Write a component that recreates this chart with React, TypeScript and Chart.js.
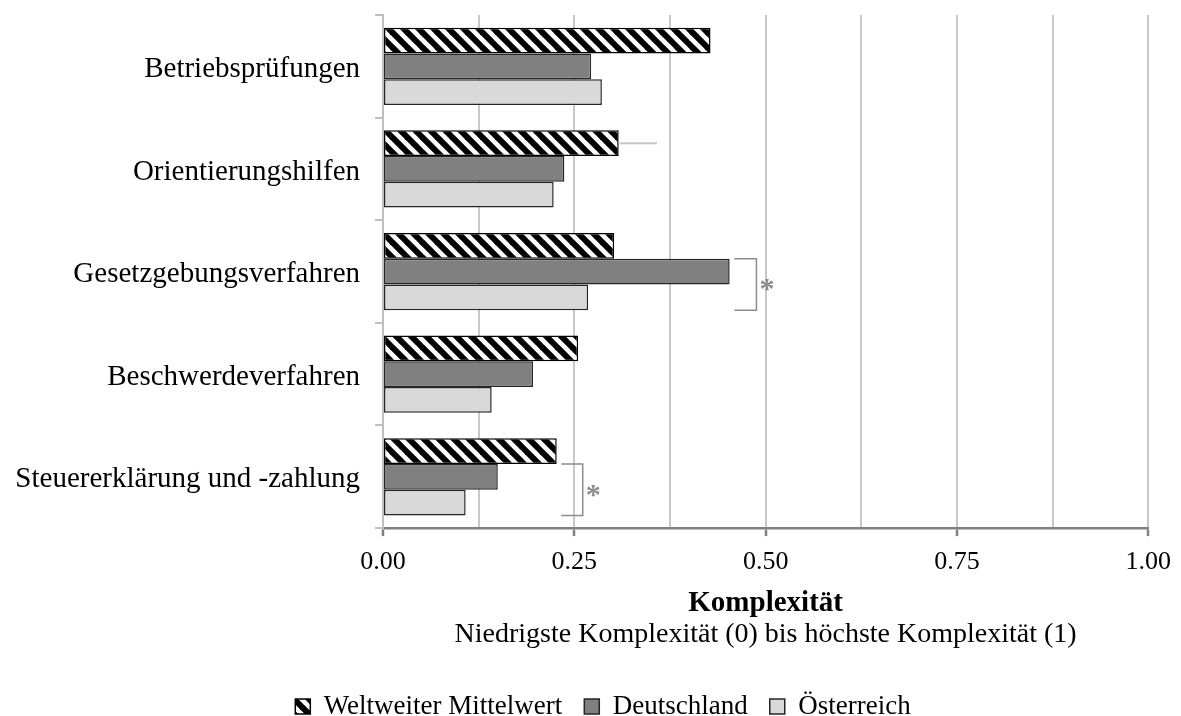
import React, { useEffect, useRef } from 'react';
import { Chart, registerables } from 'chart.js';

Chart.register(...registerables);

const categories = [
  'Betriebsprüfungen',
  'Orientierungshilfen',
  'Gesetzgebungsverfahren',
  'Beschwerdeverfahren',
  'Steuererklärung und -zahlung',
];
const seriesNames = ['Weltweiter Mittelwert', 'Deutschland', 'Österreich'];
const weltweit = [0.428, 0.308, 0.302, 0.255, 0.227];
const deutschland = [0.272, 0.237, 0.453, 0.196, 0.15];
const oesterreich = [0.286, 0.223, 0.268, 0.142, 0.108];
const xLabelTicks = [0, 0.25, 0.5, 0.75, 1];
const axisTitle = 'Komplexität';
const axisSubtitle = 'Niedrigste Komplexität (0) bis höchste Komplexität (1)';
const significance = [
  { category: 'Gesetzgebungsverfahren', from: 0.459, to: 0.488, label: '*' },
  { category: 'Steuererklärung und -zahlung', from: 0.233, to: 0.261, label: '*' },
];
const whiskers = [{ category: 'Orientierungshilfen', series: 0, to: 0.358 }];

const FONT = '"Liberation Serif", "Times New Roman", serif';

function makeHatch(): CanvasPattern | string {
  const size = 15;
  const c = document.createElement('canvas');
  c.width = size;
  c.height = size;
  const g = c.getContext('2d');
  if (!g) return '#888';
  g.fillStyle = '#ffffff';
  g.fillRect(0, 0, size, size);
  g.strokeStyle = '#000000';
  g.lineWidth = 6;
  for (const off of [-size, 0, size]) {
    g.beginPath();
    g.moveTo(off - 2, -2);
    g.lineTo(off + size + 2, size + 2);
    g.stroke();
  }
  const p = g.createPattern(c, 'repeat');
  return p || '#888';
}

const legendShiftPlugin = {
  id: 'legendShift',
  afterLayout(chart: any) {
    const lg = chart.legend;
    if (!lg) return;
    lg.left += 27;
    lg.right += 27;
    if (lg.legendHitBoxes) lg.legendHitBoxes.forEach((h: any) => (h.left += 27));
  },
};

const annotPlugin = {
  id: 'annot',
  afterDatasetsDraw(chart: any) {
    const { ctx } = chart;
    const x = chart.scales.x;
    ctx.save();
    whiskers.forEach((w) => {
      const i = categories.indexOf(w.category);
      const el = chart.getDatasetMeta(w.series).data[i];
      if (!el) return;
      const p = el.getProps(['x', 'y'], true);
      ctx.strokeStyle = '#c8c8c8';
      ctx.lineWidth = 2;
      ctx.beginPath();
      ctx.moveTo(p.x + 1, p.y);
      ctx.lineTo(x.getPixelForValue(w.to), p.y);
      ctx.stroke();
    });
    significance.forEach((s) => {
      const i = categories.indexOf(s.category);
      const b1 = chart.getDatasetMeta(1).data[i];
      const b2 = chart.getDatasetMeta(2).data[i];
      if (!b1 || !b2) return;
      const p1 = b1.getProps(['y', 'height'], true);
      const p2 = b2.getProps(['y', 'height'], true);
      const top = p1.y - p1.height / 2;
      const bottom = p2.y + p2.height / 2;
      const x1 = x.getPixelForValue(s.from);
      const x2 = x.getPixelForValue(s.to);
      ctx.strokeStyle = '#8c8c8c';
      ctx.lineWidth = 1.5;
      ctx.beginPath();
      ctx.moveTo(x1, top);
      ctx.lineTo(x2, top);
      ctx.lineTo(x2, bottom);
      ctx.lineTo(x1, bottom);
      ctx.stroke();
      ctx.fillStyle = '#8c8c8c';
      ctx.font = 'bold 30px ' + FONT;
      ctx.textAlign = 'left';
      ctx.textBaseline = 'alphabetic';
      ctx.fillText(s.label, x2 + 3, (top + bottom) / 2 + 14);
    });
    ctx.restore();
  },
};

export default function App() {
  const ref = useRef<HTMLCanvasElement>(null);
  useEffect(() => {
    if (!ref.current) return;
    const hatch = makeHatch();
    const chart = new Chart(ref.current, {
      type: 'bar',
      data: {
        labels: categories,
        datasets: [
          {
            label: seriesNames[0],
            data: weltweit,
            backgroundColor: hatch as any,
            borderColor: '#000000',
            borderWidth: 1.5,
            borderSkipped: false,
          },
          {
            label: seriesNames[1],
            data: deutschland,
            backgroundColor: '#808080',
            borderColor: '#262626',
            borderWidth: 1.5,
            borderSkipped: false,
          },
          {
            label: seriesNames[2],
            data: oesterreich,
            backgroundColor: '#d9d9d9',
            borderColor: '#262626',
            borderWidth: 1.5,
            borderSkipped: false,
          },
        ],
      },
      options: {
        indexAxis: 'y',
        responsive: false,
        animation: false,
        datasets: { bar: { categoryPercentage: 0.752, barPercentage: 1 } },
        layout: { padding: { top: 15, right: 29, left: 0, bottom: -14 } },
        scales: {
          x: {
            min: 0,
            max: 1,
            ticks: {
              stepSize: 0.125,
              autoSkip: false,
              maxRotation: 0,
              padding: 10,
              color: '#000',
              font: { family: FONT, size: 26 },
              callback: (v: any) => (xLabelTicks.includes(Number(v)) ? Number(v).toFixed(2) : ''),
            },
            grid: {
              color: '#c8c8c8',
              lineWidth: 2,
              tickLength: 8,
              tickWidth: 2.5,
              tickColor: (c: any) =>
                c.tick && xLabelTicks.includes(c.tick.value) ? '#808080' : 'rgba(0,0,0,0)',
            },
            border: { color: '#808080', width: 2.5 },
          },
          y: {
            ticks: { color: '#000', padding: 15, labelOffset: 3, font: { family: FONT, size: 29 } },
            grid: {
              offset: true,
              drawOnChartArea: false,
              tickLength: 8,
              color: '#bfbfbf',
              lineWidth: 2,
            },
            border: { color: '#bfbfbf', width: 2 },
            afterFit: (s: any) => {
              s.width = 383;
              s.paddingTop = 0;
              s.paddingBottom = 0;
            },
          },
        },
        plugins: {
          tooltip: { enabled: false },
          title: {
            display: true,
            text: axisTitle,
            position: 'bottom',
            fullSize: false,
            weight: 10,
            color: '#000',
            font: { family: FONT, size: 29, weight: 'bold', lineHeight: 1.1 },
            padding: { top: 0, bottom: 0 },
          } as any,
          subtitle: {
            display: true,
            text: axisSubtitle,
            position: 'bottom',
            fullSize: false,
            weight: 20,
            color: '#000',
            font: { family: FONT, size: 28, lineHeight: 1.1 },
            padding: { top: 0, bottom: 21 },
          } as any,
          legend: {
            position: 'bottom',
            labels: {
              color: '#000',
              font: { family: FONT, size: 27 },
              boxWidth: 15,
              boxHeight: 15,
              padding: 22,
            },
          },
        },
      },
      plugins: [annotPlugin, legendShiftPlugin],
    });
    return () => chart.destroy();
  }, []);
  return (
    <div style={{ position: 'absolute', left: 0, top: 0, width: 1181, height: 716, background: '#fff', overflow: 'hidden' }}>
      <canvas ref={ref} width={1181} height={716} />
    </div>
  );
}
